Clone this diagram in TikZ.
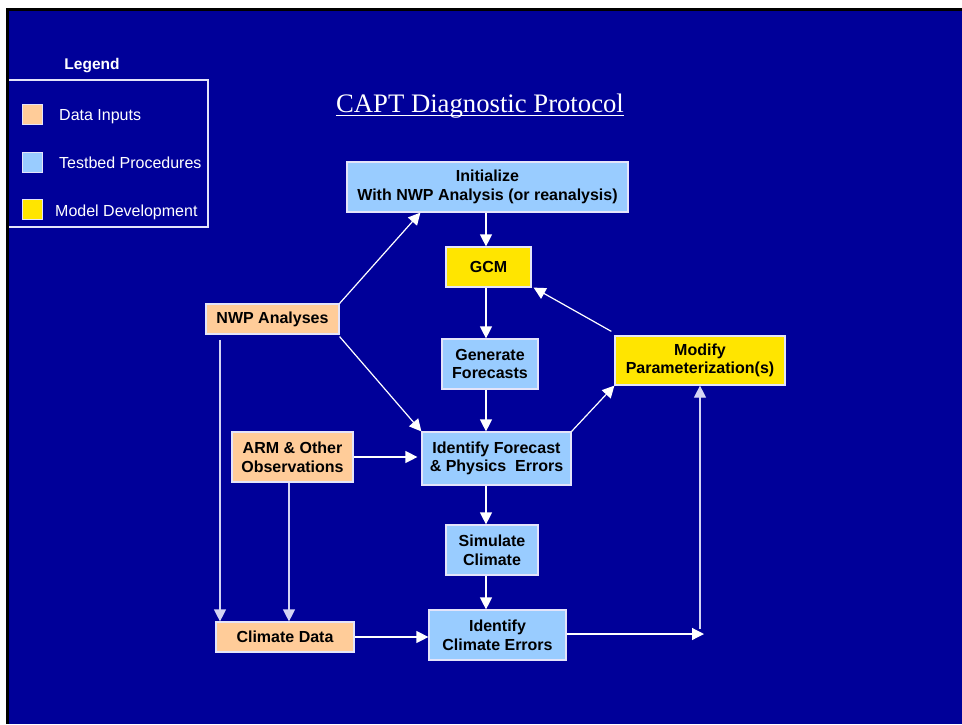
\documentclass[tikz,border=0pt]{standalone}
\usepackage{fontspec}
\setmainfont{Liberation Sans}
\newfontfamily\serifttl{Liberation Serif}
\usetikzlibrary{arrows.meta,calc}
\definecolor{bg}{HTML}{000099}
\definecolor{inp}{HTML}{FFCC99}
\definecolor{tst}{HTML}{99CCFF}
\definecolor{dev}{HTML}{FFE500}
\definecolor{boxline}{HTML}{E4E4FA}
\definecolor{lav}{HTML}{D4D4F4}
\begin{document}
\begin{tikzpicture}[x=1pt,y=-1pt,
  box/.style={draw=boxline, line width=1.2pt, align=center, text=black, inner sep=0pt,
    font=\fontsize{16}{18.7}\selectfont\bfseries},
  inbox/.style={box, fill=inp},
  tbox/.style={box, fill=tst},
  dbox/.style={box, fill=dev},
  arr/.style={draw=white, line width=1.2pt, -{Triangle[length=12pt,width=12pt]}},
  larr/.style={arr, draw=lav},
  swatch/.style={draw=boxline, line width=1pt, minimum width=20pt, minimum height=20pt, inner sep=0pt},
  legtext/.style={anchor=base west, text=white, font=\fontsize{16}{19}\selectfont, inner sep=0pt}
]
% background and frame
\fill[white] (0,0) rectangle (962,724);
\fill[black] (6,8) rectangle (962,724);
\fill[bg] (9,11) rectangle (962,724);

% legend
\node[text=white, anchor=base, inner sep=0pt, font=\fontsize{15.5}{18}\selectfont\bfseries] (legtitle) at (92,69) {Legend};
\draw[boxline, line width=1.2pt] (9,80) -- (208,80) -- (208,227) -- (9,227);
\node[swatch, fill=inp] (sw1) at (32,114) {};
\node[swatch, fill=tst] (sw2) at (32,162) {};
\node[swatch, fill=dev] (sw3) at (32,209.5) {};
\node[legtext] (lt1) at (59,120.5) {Data Inputs};
\node[legtext] (lt2) at (59,168.5) {Testbed Procedures};
\node[legtext] (lt3) at (55,216) {Model Development};

% title
\node[text=white, anchor=base, inner sep=0pt, font=\serifttl\fontsize{26.7}{30}\selectfont] (title) at (480,112) {CAPT Diagnostic Protocol};
\draw[white, line width=1.3pt] (title.base west) ++(0,3.5) -- ($(title.base east)+(0,3.5)$);

% boxes
\node[tbox, minimum width=281pt, minimum height=50pt] (init) at (487.5,187) {Initialize\\With NWP Analysis (or reanalysis)};
\node[dbox, minimum width=85pt, minimum height=40pt] (gcm) at (488.5,267) {GCM};
\node[inbox, minimum width=133pt, minimum height=30pt] (nwp) at (272.5,319) {NWP Analyses};
\node[tbox, minimum width=96pt, minimum height=50pt] (gen) at (490,364) {Generate\\Forecasts};
\node[dbox, minimum width=170pt, minimum height=49pt] (mod) at (700,360.5) {Modify\\Parameterization(s)};
\node[inbox, minimum width=121pt, minimum height=50pt] (arm) at (292.5,457) {ARM \& Other\\Observations};
\node[tbox, minimum width=149pt, minimum height=53pt] (idf) at (496.5,458.5) {Identify Forecast\\\& Physics~~Errors};
\node[tbox, minimum width=92pt, minimum height=50pt] (sim) at (492,550) {Simulate\\Climate};
\node[inbox, minimum width=138pt, minimum height=30pt] (cd) at (285,637) {Climate Data};
\node[tbox, minimum width=137pt, minimum height=50pt] (idc) at (497.5,635) {Identify\\Climate Errors};

\coordinate (col) at (486,0);
\coordinate (corner) at (704,634);
\coordinate (nwpx) at (220,340);

% connectors
\draw[arr] (nwp.north east) -- ([xshift=74pt]init.south west);
\draw[arr] (col |- init.south) -- (col |- gcm.north);
\draw[arr] (col |- gcm.south) -- (col |- gen.north);
\draw[arr] (col |- gen.south) -- (col |- idf.north);
\draw[arr] ([yshift=-2pt]nwp.south east) -- (idf.north west);
\draw[arr] (arm.east) -- ([xshift=-4pt]idf.west |- arm.east);
\draw[arr] (idf.north east) -- (mod.south west);
\draw[arr] ([xshift=-3pt,yshift=4pt]mod.north west) -- ([xshift=2pt]gcm.south east);
\draw[arr] (col |- idf.south) -- (col |- sim.north);
\draw[arr] (col |- sim.south) -- (col |- idc.north);
\draw[arr] (cd.east) -- (idc.west |- cd.east);
\draw[arr] (idc.east |- corner) -- (corner);
\draw[larr] ([yshift=5pt]corner -| mod.south) -- (mod.south);
\draw[larr] (nwpx) -- (nwpx |- cd.north);
\draw[larr] ([xshift=-3.5pt]arm.south) -- ([xshift=-3.5pt]arm.south |- cd.north);
\end{tikzpicture}
\end{document}
